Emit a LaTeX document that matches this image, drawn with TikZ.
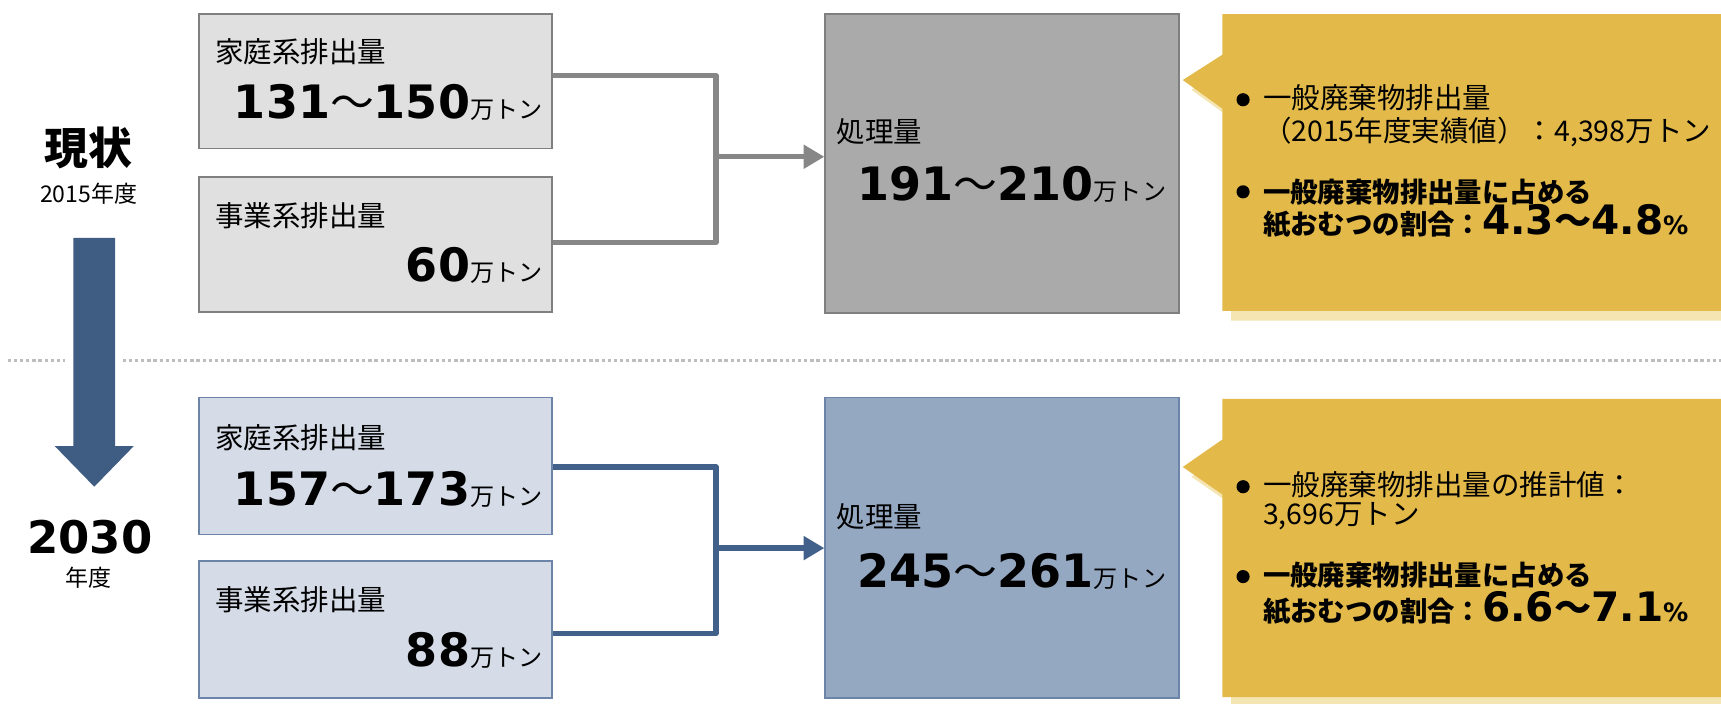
\documentclass[tikz,border=0pt]{standalone}
\usepackage{fontspec}
\newfontfamily\JPf{Noto Sans CJK JP}
\newfontfamily\NUMf{DejaVu Sans}
\usetikzlibrary{arrows.meta}
\newcommand{\setfs}[1]{\fontsize{#1}{#1}\selectfont}
\newcommand{\bnum}[2]{{\NUMf\bfseries\setfs{#2}#1}}
\newcommand{\wv}[1]{{\JPf\setfs{#1}～}}
\newcommand{\mant}{{\JPf\setfs{22}万トン}}
\newcommand{\pct}{{\NUMf\bfseries\setfs{23}\%}}
\definecolor{gfill}{HTML}{E0E0E0}
\definecolor{gline}{HTML}{7F7F7F}
\definecolor{gproc}{HTML}{AAAAAA}
\definecolor{gconn}{HTML}{878787}
\definecolor{bfill}{HTML}{D5DCE8}
\definecolor{bline}{HTML}{6C84A8}
\definecolor{bproc}{HTML}{95A8C2}
\definecolor{bconn}{HTML}{41618A}
\definecolor{barrow}{HTML}{3F5C82}
\definecolor{yel}{HTML}{E3BA4A}
\definecolor{ysh}{HTML}{F4E5B2}
\definecolor{dotc}{HTML}{BDBDBD}
\begin{document}
\begin{tikzpicture}[x=1pt,y=-1pt,
  gbox/.style={draw=gline, fill=gfill, line width=1.3pt, minimum width=322pt, minimum height=123pt, anchor=north west, inner sep=0pt},
  bbox/.style={gbox, draw=bline, fill=bfill, minimum height=125pt},
  gprocbox/.style={gbox, fill=gproc, draw=gline, minimum width=323pt, minimum height=273pt},
  bprocbox/.style={gbox, fill=bproc, draw=bline, minimum width=323pt, minimum height=274pt},
  lbl/.style={anchor=west, inner sep=0pt, font=\JPf\setfs{26}},
  val/.style={anchor=base east, inner sep=0pt},
  ytxt/.style={anchor=west, inner sep=0pt, font=\JPf\setfs{26}},
  ybold/.style={anchor=west, inner sep=0pt, font=\JPf\bfseries\setfs{25}},
  ybase/.style={anchor=base west, inner sep=0pt, font=\JPf\bfseries\setfs{25}},
  bul/.style={circle, fill=black, minimum size=12pt, inner sep=0pt},
  gconnS/.style={draw=gconn, line width=5pt, line join=round},
  bconnS/.style={draw=bconn, line width=5pt, line join=round},
  dotline/.style={draw=dotc, line width=3pt, dash pattern=on 3pt off 2.6pt},
  tipS/.style={-{Triangle[length=19pt,width=21pt]}}
]
\useasboundingbox (0,0) rectangle (1570,642.2);
\fill[white] (0,0) rectangle (1570,642.2);

% separator
\draw[dotline] (7,329) -- (59,329);
\draw[dotline] (112,329) -- (1570,329);

% left labels
\node[inner sep=0pt, font=\JPf\bfseries\setfs{40}] (now) at (81,135) {現状};
\node[inner sep=0pt, font=\JPf\setfs{21}] (nowy) at (81,177) {2015年度};
\node[inner sep=0pt, font=\NUMf\bfseries\setfs{41}] (fut) at (82,490) {2030};
\node[inner sep=0pt, font=\JPf\setfs{21}] (futy) at (81,527) {年度};
\fill[barrow] (67,217) -- (105,217) -- (105,407) -- (122,407) -- (86,444) -- (50,407) -- (67,407) -- cycle;

% ---------- top row ----------
\node[gbox] (h1) at (181,12) {};
\node[gbox] (h2) at (181,161) {};
\node[gprocbox] (p1) at (752,12) {};
\node[lbl] (h1l) at (196,47) {家庭系排出量};
\node[val] (h1v) at (495,108.5) {\bnum{131}{42}\wv{40}\bnum{150}{42}\mant};
\node[lbl] (h2l) at (196,197) {事業系排出量};
\node[val] (h2v) at (495,257) {\bnum{60}{42}\mant};
\node[lbl] (p1l) at (763,120) {処理量};
\node[val] (p1v) at (1064,182.5) {\bnum{191}{42}\wv{40}\bnum{210}{42}\mant};

\coordinate (ja) at (653,69);
\coordinate (jb) at (653,221);
\coordinate (jm) at (653,143);
\draw[gconnS] (h1.east |- ja) -- (ja) -- (jb) -- (h2.east |- jb);
\draw[gconnS, tipS] (jm) -- (p1.west |- jm);

% top callout
\fill[ysh] (1123,21.8) -- (1578,21.8) -- (1578,292.5) -- (1123,292.5) -- (1123,108) -- (1087,82) -- (1123,59) -- cycle;
\fill[yel] (1115,12.8) -- (1570,12.8) -- (1570,283.5) -- (1115,283.5) -- (1115,99) -- (1079,73) -- (1115,50) -- cycle;
\node[bul] (b1) at (1134,91) {};
\node[ytxt] (c1a) at (1152,89) {一般廃棄物排出量};
\node[ytxt] (c1b) at (1152,120) {（2015年度実績値）：4,398万トン};
\node[bul] (b2) at (1134,175) {};
\node[ybold] (c1c) at (1152,175) {一般廃棄物排出量に占める};
\node[ybase] (c1d) at (1152,214) {紙おむつの割合：\bnum{4.3}{37}\wv{34}\bnum{4.8}{37}\pct};

% ---------- bottom row ----------
\node[bbox] (h3) at (181,362) {};
\node[bbox] (h4) at (181,511) {};
\node[bprocbox] (p2) at (752,362) {};
\node[lbl] (h3l) at (196,399) {家庭系排出量};
\node[val] (h3v) at (495,461) {\bnum{157}{42}\wv{40}\bnum{173}{42}\mant};
\node[lbl] (h4l) at (196,547) {事業系排出量};
\node[val] (h4v) at (495,608) {\bnum{88}{42}\mant};
\node[lbl] (p2l) at (763,471) {処理量};
\node[val] (p2v) at (1064,535.5) {\bnum{245}{42}\wv{40}\bnum{261}{42}\mant};

\coordinate (jc) at (653,426);
\coordinate (jd) at (653,578);
\coordinate (jn) at (653,500);
\draw[bconnS] (h3.east |- jc) -- (jc) -- (jd) -- (h4.east |- jd);
\draw[bconnS, tipS] (jn) -- (p2.west |- jn);

% bottom callout
\fill[ysh] (1123,372.8) -- (1578,372.8) -- (1578,645) -- (1123,645) -- (1123,460) -- (1087,435) -- (1123,410) -- cycle;
\fill[yel] (1115,363.8) -- (1570,363.8) -- (1570,636) -- (1115,636) -- (1115,451) -- (1079,426) -- (1115,401) -- cycle;
\node[bul] (b3) at (1134,444) {};
\node[ytxt] (c2a) at (1152,442) {一般廃棄物排出量の推計値：};
\node[ytxt] (c2b) at (1152,471) {3,696万トン};
\node[bul] (b4) at (1134,526) {};
\node[ybold] (c2c) at (1152,525) {一般廃棄物排出量に占める};
\node[ybase] (c2d) at (1152,567) {紙おむつの割合：\bnum{6.6}{37}\wv{34}\bnum{7.1}{37}\pct};
\end{tikzpicture}
\end{document}
